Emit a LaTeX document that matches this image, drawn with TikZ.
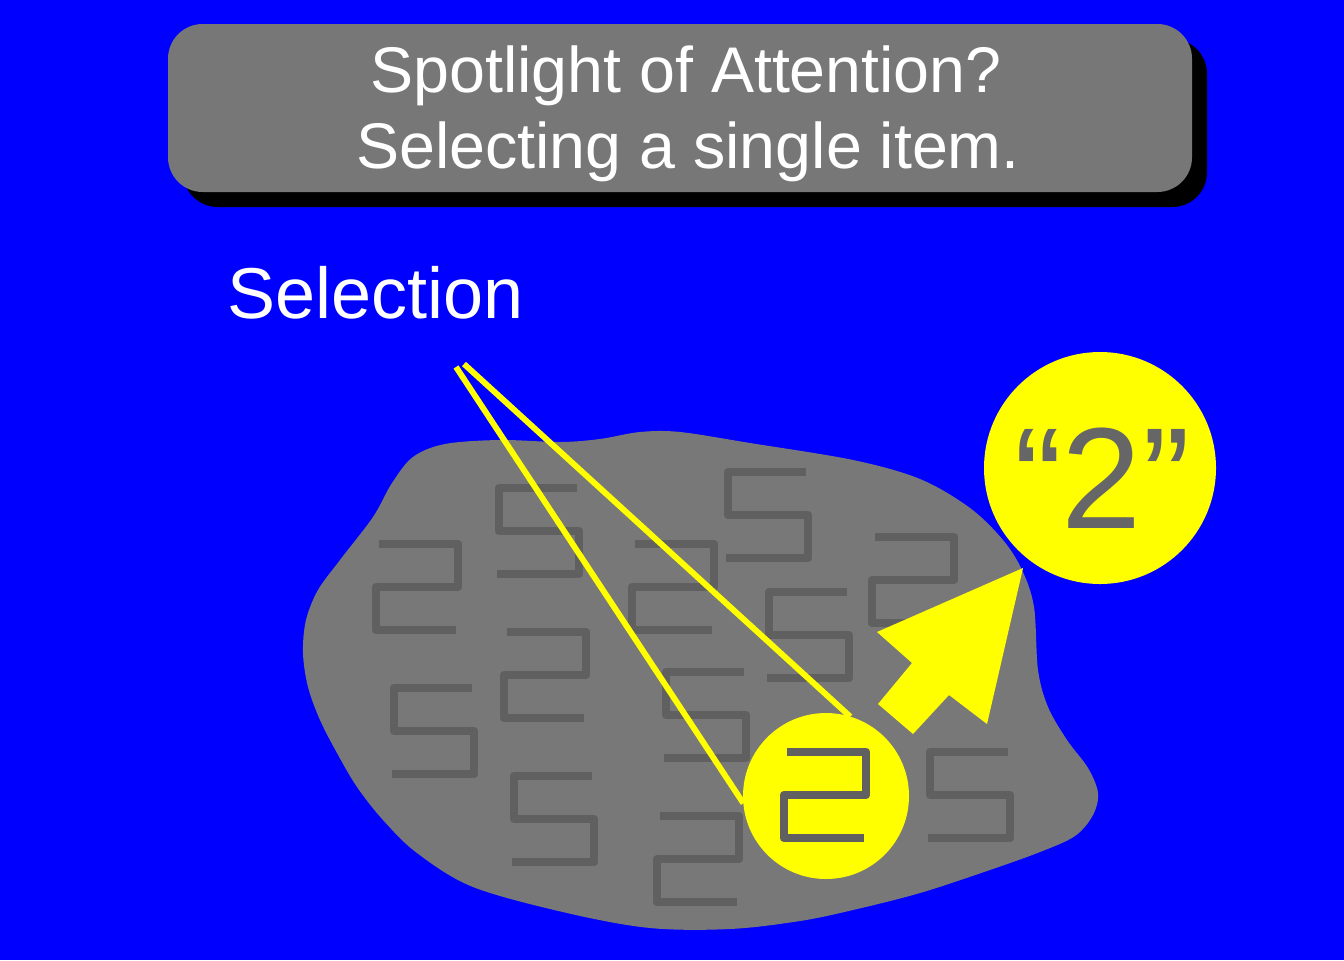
\documentclass[tikz,border=0pt]{standalone}
\usepackage{fontspec}
\setmainfont{Liberation Sans}
\definecolor{bgblue}{RGB}{0,0,255}
\definecolor{boxgray}{RGB}{119,119,119}
\definecolor{blobgray}{RGB}{120,120,120}
\definecolor{glyphgray}{RGB}{96,96,96}
\definecolor{quotegray}{RGB}{102,102,102}
\definecolor{spot}{RGB}{255,255,0}
\tikzset{
  glyph/.style={draw=glyphgray, line width=6.4pt, line join=round, line cap=butt},
  digittwo/.pic={\path[glyph] (3,0) -- (82,0) -- (82,43) -- (0,43) -- (0,86) -- (80,86);},
  digitfive/.pic={\path[glyph] (80,0) -- (2,0) -- (2,43) -- (82,43) -- (82,86) -- (0,86);},
  titletext/.style={text=white, font=\fontsize{48.4pt}{58pt}\selectfont, inner sep=0pt, anchor=base},
  conebeam/.style={draw=spot, line width=4.4pt},
  spotdisc/.style={circle, fill=spot, inner sep=0pt, outer sep=0pt}
}
\begin{document}
\begin{tikzpicture}[x=0.75pt,y=-0.75pt]
\useasboundingbox (0,0) rectangle (1344,960);
\fill[bgblue] (0,0) rectangle (1344,960);
% title box with shadow
\fill[black, rounded corners=26pt] (183,39) rectangle (1207,207);
\fill[boxgray, rounded corners=26pt] (168,24) rectangle (1192,192);
\node[titletext] (t1) at (686,92) {Spotlight of Attention?};
\node[titletext] (t2) at (688,168) {Selecting a single item.};
% Selection label
\node[text=white, font=\fontsize{54pt}{60pt}\selectfont, inner sep=0pt, anchor=base west] (sel) at (227,318) {Selection};
% blob
\fill[blobgray] plot[smooth cycle, tension=0.55] coordinates {
 (445,444) (500,440) (560,442) (600,439) (640,432) (680,432)
 (750,443) (853,460) (920,479) (970,508) (1003,540) (1022,570)
 (1034,607) (1038,670) (1048,707) (1067,740) (1088,768) (1098,793)
 (1093,815) (1075,836) (1040,852) (987,871) (920,893) (853,910)
 (800,921) (730,929) (650,928) (567,913) (473,887) (417,853)
 (383,820) (357,787) (337,753) (320,720) (308,687) (303,653)
 (306,620) (318,590) (340,560) (373,517) (392,483) (413,457)};
% digits
\pic at (376,544) {digittwo};
\pic at (504,632) {digittwo};
\pic at (632,544) {digittwo};
\pic at (872,537) {digittwo};
\pic at (657,816) {digittwo};
\pic at (497,488) {digitfive};
\pic at (726,472) {digitfive};
\pic at (392,688) {digitfive};
\pic at (512,776) {digitfive};
\pic at (664,672) {digitfive};
\pic at (767,592) {digitfive};
\pic at (928,752) {digitfive};
% spotlight
\node[spotdisc, minimum size=124.5pt] (small) at (826,796) {};
\coordinate (apexL) at (456,367);
\coordinate (apexR) at (464,364);
\draw[conebeam] (apexL) -- (small.185);
\draw[conebeam] (apexR) -- (small.73);
\pic at (784,752) {digittwo};
% arrow
\fill[spot] (1023,568) -- (877,632) -- (912,663) -- (878,704) -- (913,734) -- (949,695) -- (987,724) -- cycle;
% big circle
\node[spotdisc, minimum size=174pt] (big) at (1100,468) {};
\node[text=quotegray, font=\fontsize{108pt}{120pt}\selectfont, inner sep=0pt, anchor=base] (word) at (1102,528) {“2”};
\end{tikzpicture}
\end{document}
